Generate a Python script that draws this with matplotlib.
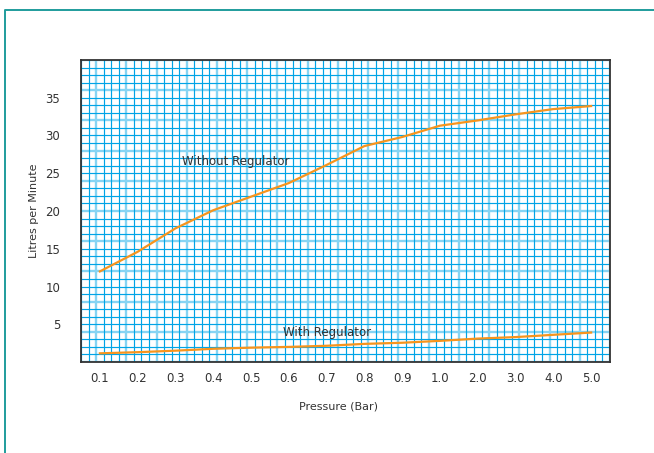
import numpy as np
import matplotlib.pyplot as plt
from matplotlib.lines import Line2D

# Data
pressure = ["0.1", "0.2", "0.3", "0.4", "0.5", "0.6", "0.7", "0.8", "0.9",
            "1.0", "2.0", "3.0", "4.0", "5.0"]
without_regulator = [12.0, 14.6, 17.7, 20.1, 21.9, 23.7, 26.1, 28.6, 29.8,
                     31.3, 32.0, 32.8, 33.5, 33.9]
with_regulator = [1.15, 1.3, 1.5, 1.75, 1.9, 2.0, 2.15, 2.4, 2.55,
                  2.8, 3.1, 3.3, 3.6, 3.9]
y_ticks = [5, 10, 15, 20, 25, 30, 35]

orange = "#f7941d"
dark_blue = "#00a4e6"
light_blue = "#86d4f3"

fig = plt.figure(figsize=(6.54, 4.53), dpi=100)
ax = fig.add_axes([81 / 654, 1 - 362 / 453, 529 / 654, 302 / 453])

x = np.arange(len(pressure))
ax.set_xlim(-0.5, len(pressure) - 0.5)
ax.set_ylim(0, 40)

# graph paper grid
for i, gx in enumerate(np.arange(-0.5, len(pressure) - 0.5 + 1e-9, 0.2)):
    if i % 4 == 2:
        ax.axvline(gx, color=light_blue, lw=1.7, zorder=0)
    else:
        ax.axvline(gx, color=dark_blue, lw=0.85, zorder=1)
for j in range(0, 41):
    if j % 4 == 0:
        ax.axhline(j, color=light_blue, lw=1.7, zorder=0)
    else:
        ax.axhline(j, color=dark_blue, lw=0.85, zorder=1)

ax.plot(x, without_regulator, color=orange, lw=1.6, zorder=3)
ax.plot(x, with_regulator, color=orange, lw=1.6, zorder=3)

ax.text(2.17, 26.6, "Without Regulator", fontsize=8.5, color="#333333",
        va="center", ha="left", zorder=4)
ax.text(4.84, 3.97, "With Regulator", fontsize=8.5, color="#333333",
        va="center", ha="left", zorder=4)

ax.set_xticks(x)
ax.set_xticklabels(pressure)
ax.set_yticks(y_ticks)
ax.tick_params(axis="x", length=0, pad=7, labelsize=8.5, colors="#333333")
ax.tick_params(axis="y", length=0, pad=15, labelsize=8.5, colors="#333333")

for s in ax.spines.values():
    s.set_color("#333333")
    s.set_linewidth(1.3)
    s.set_zorder(5)

ax.set_xlabel("Pressure (Bar)", fontsize=8, color="#333333")
ax.xaxis.set_label_coords(0.486, -0.132)
ax.set_ylabel("Litres per Minute", fontsize=8, color="#333333")
ax.yaxis.set_label_coords(-0.08, 0.5)

# teal frame (left and top edges)
fig.add_artist(Line2D([4.5 / 654, 4.5 / 654, 1.0], [0.0, 1 - 10 / 453, 1 - 10 / 453],
                      transform=fig.transFigure, color="#1f9c9c", lw=1.4))

fig.savefig("out.png", dpi=100)
